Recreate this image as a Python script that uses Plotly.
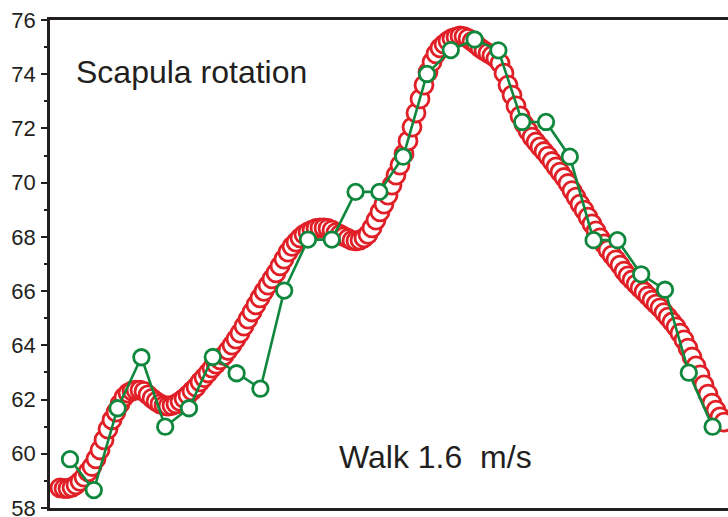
import numpy as np
import plotly.graph_objects as go

# High-rate trace of scapula rotation (deg), one value per sample
scapula_rate_hi = [
    58.74, 58.72, 58.72, 58.76, 58.85, 58.98, 59.14, 59.33, 59.53, 59.81,
    60.14, 60.51, 60.91, 61.25, 61.54, 61.84, 62.09, 62.24, 62.32, 62.35,
    62.35, 62.30, 62.17, 62.04, 61.93, 61.84, 61.78, 61.76, 61.78, 61.84,
    61.93, 62.04, 62.17, 62.32, 62.46, 62.65, 62.81, 62.98, 63.16, 63.31,
    63.46, 63.62, 63.81, 64.01, 64.23, 64.45, 64.71, 64.97, 65.23, 65.49,
    65.75, 65.99, 66.22, 66.45, 66.67, 66.93, 67.18, 67.44, 67.65, 67.81,
    67.96, 68.09, 68.18, 68.25, 68.31, 68.33, 68.33, 68.31, 68.25, 68.16,
    68.09, 68.01, 67.94, 67.87, 67.85, 67.88, 67.96, 68.09, 68.33, 68.62,
    68.92, 69.21, 69.54, 69.91, 70.28, 70.65, 71.06, 71.54, 72.05, 72.57,
    73.09, 73.60, 74.08, 74.45, 74.75, 74.97, 75.11, 75.23, 75.32, 75.37,
    75.41, 75.39, 75.32, 75.21, 75.10, 74.97, 74.87, 74.78, 74.69, 74.58,
    74.41, 74.04, 73.60, 73.23, 72.83, 72.46, 72.16, 71.91, 71.68, 71.50,
    71.32, 71.15, 70.98, 70.78, 70.58, 70.39, 70.19, 69.97, 69.71, 69.47,
    69.21, 68.99, 68.73, 68.48, 68.22, 67.96, 67.74, 67.52, 67.33, 67.15,
    66.96, 66.74, 66.56, 66.41, 66.26, 66.11, 65.97, 65.82, 65.67, 65.52,
    65.38, 65.21, 65.04, 64.86, 64.68, 64.45, 64.20, 63.90, 63.57, 63.24,
    62.91, 62.54, 62.20, 61.87, 61.61, 61.36, 61.17,
]

# Low-rate trace of the same rotation (deg)
scapula_rate_lo = [
    59.80, 58.66, 61.68, 63.56, 61.00, 61.68, 63.57, 62.97, 62.40, 66.02,
    67.90, 67.90, 69.66, 69.66, 70.96, 74.01, 74.89, 75.28, 74.88, 72.24,
    72.24, 70.96, 67.88, 67.88, 66.62, 66.05, 62.99, 61.00,
]

y_ticks = [58, 60, 62, 64, 66, 68, 70, 72, 74, 76]

# sample positions on a common frame axis (low-rate frames every 5.95 high-rate samples)
x_hi = np.arange(len(scapula_rate_hi))
x_lo = 2.5 + 5.95 * np.arange(len(scapula_rate_lo))

RED = "#e11f27"
GREEN = "#0f873c"
INK = "#231f20"
FONT = "Liberation Sans, Arial, Helvetica, sans-serif"

fig = go.Figure()

fig.add_trace(go.Scatter(
    x=x_hi, y=scapula_rate_hi, mode="markers",
    marker=dict(symbol="circle", size=18, color="white",
                line=dict(color=RED, width=2.8)),
    hoverinfo="skip", showlegend=False,
))

fig.add_trace(go.Scatter(
    x=x_lo, y=scapula_rate_lo, mode="lines+markers",
    line=dict(color=GREEN, width=2.6),
    marker=dict(symbol="circle", size=15.5, color="white",
                line=dict(color=GREEN, width=2.8)),
    hoverinfo="skip", showlegend=False,
))

fig.add_annotation(
    text="Scapula rotation", xref="paper", yref="paper",
    x=0.036, y=0.893, xanchor="left", yanchor="middle", showarrow=False,
    font=dict(family=FONT, size=32, color=INK),
)
fig.add_annotation(
    text="Walk 1.6\u00a0 m/s", xref="paper", yref="paper",
    x=0.4235, y=0.104, xanchor="left", yanchor="middle", showarrow=False,
    font=dict(family=FONT, size=32, color=INK),
)

fig.update_xaxes(
    range=[-2.5, 167], showgrid=False, zeroline=False,
    showline=True, linecolor=INK, linewidth=2.8, mirror=True,
    showticklabels=False, ticks="", automargin=False,
)
fig.update_yaxes(
    range=[58, 76], tickvals=y_ticks, showgrid=False, zeroline=False,
    showline=True, linecolor=INK, linewidth=2.8, automargin=False,
    ticks="outside", ticklen=6, tickwidth=2, tickcolor=INK,
    ticklabelstandoff=1, ticklabeloverflow="allow",
    minor=dict(dtick=1, tick0=58, ticks="outside", ticklen=3, tickwidth=2, tickcolor=INK),
    tickfont=dict(family=FONT, size=22, color=INK),
)

fig.update_layout(
    width=728, height=517,
    margin=dict(l=50, r=0, t=20, b=9, autoexpand=False),
    paper_bgcolor="white", plot_bgcolor="white",
)

fig.write_html("out.html")
